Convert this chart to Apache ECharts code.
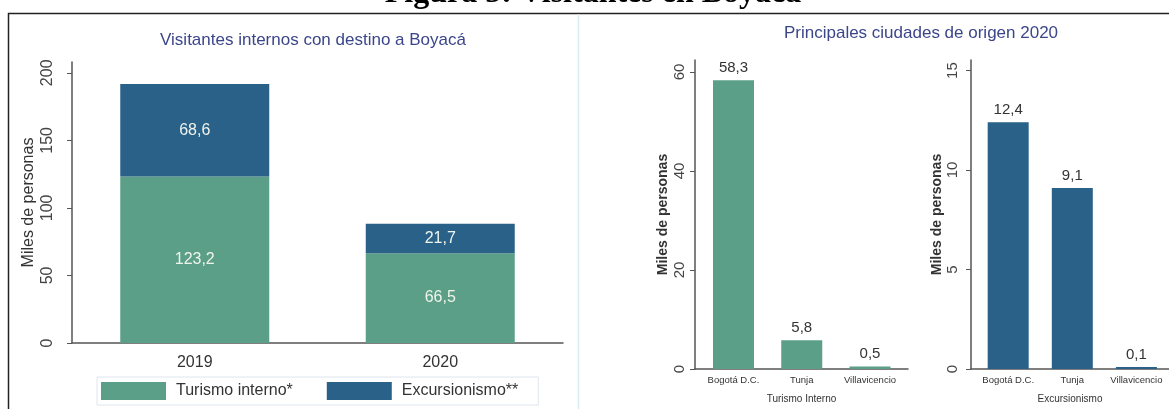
<!DOCTYPE html>
<html><head><meta charset="utf-8">
<script src="https://cdn.jsdelivr.net/npm/echarts@6/dist/echarts.min.js"></script>
<style>html,body{margin:0;padding:0;background:#fff}#c{width:1169px;height:409px}</style>
</head><body><div id="c"></div>
<script>
const years = ['2019', '2020'];
const turismoInterno = [123.2, 66.5];
const excursionismo = [68.6, 21.7];
const cities = ['Bogotá D.C.', 'Tunja', 'Villavicencio'];
const cityTurismo = [58.3, 5.8, 0.5];
const cityExcursion = [12.4, 9.1, 0.1];
const leftTicks = [0, 50, 100, 150, 200];
const midTicks = [0, 20, 40, 60];
const rightTicks = [0, 5, 10, 15];

const GREEN = '#5b9f88', BLUE = '#2a6189';
const FONT = 'Liberation Sans, Arial, sans-serif';
const fmt = v => v.toFixed(1).replace('.', ',');
const pairs = arr => arr.map((v, i) => [i, v]);
const idx = arr => arr.map((_, i) => i);
const chart = echarts.init(document.getElementById('c'));

function yAxis(gi, max, ticks, o) {
  return {
    type: 'value', gridIndex: gi, min: 0, max: max,
    name: 'Miles de personas', nameLocation: 'middle', nameRotate: 90, nameGap: o.nameGap,
    nameTextStyle: { color: '#333', fontSize: o.nameSize, fontFamily: FONT, fontWeight: gi ? 'bold' : 'normal' },
    axisLine: { show: true, onZero: false, lineStyle: { color: '#555', width: 1.5 } },
    axisTick: { show: true, length: 5, customValues: ticks, lineStyle: { color: '#555' } },
    axisLabel: { customValues: ticks, rotate: 90, margin: o.margin, color: '#444', fontSize: o.labelSize, fontFamily: FONT },
    splitLine: { show: false }
  };
}
// left chart: plain category axis (stacked bars)
const xAxisLeft = {
  type: 'category', gridIndex: 0, data: years,
  axisLine: { lineStyle: { color: '#555', width: 1.5 } },
  axisTick: { show: false },
  axisLabel: { color: '#333', fontSize: 16, fontFamily: FONT, margin: 12 }
};
// right charts: category positions on a numeric axis so bars sit where the original draws them
function xAxis(gi, cats, min, max, name) {
  return {
    type: 'value', gridIndex: gi, min: min, max: max,
    name: name, nameLocation: 'middle', nameGap: 25,
    nameTextStyle: { color: '#333', fontSize: 10, fontFamily: FONT },
    axisLine: { show: true, onZero: false, lineStyle: { color: '#555', width: 1.5 } },
    axisTick: { show: false },
    splitLine: { show: false },
    axisLabel: { customValues: idx(cats), formatter: v => cats[Math.round(v)], hideOverlap: false,
      color: '#333', fontSize: 9.5, fontFamily: FONT, margin: 6 }
  };
}

chart.setOption({
  animation: false,
  grid: [
    { left: 72, top: 62, width: 491, height: 281 },
    { left: 695, top: 60, width: 213, height: 314 },
    { left: 971, top: 60, width: 210, height: 314 }
  ],
  xAxis: [
    xAxisLeft,
    xAxis(1, cities, -0.564, -0.564 + 213 / 68.25, 'Turismo Interno'),
    xAxis(2, cities, -0.58, -0.58 + 210 / 68, 'Excursionismo')
  ],
  yAxis: [
    yAxis(0, 208, leftTicks, { nameGap: 35, nameSize: 16, margin: 16, labelSize: 16 }),
    yAxis(1, 62.4, midTicks, { nameGap: 25, nameSize: 14, margin: 8, labelSize: 15 }),
    yAxis(2, 15.53, rightTicks, { nameGap: 26, nameSize: 14, margin: 11, labelSize: 15 })
  ],
  legend: {
    left: 97, top: 377,
    data: ['Turismo interno*', 'Excursionismo**'],
    itemWidth: 65, itemHeight: 18, itemGap: 34,
    padding: [5, 20, 5, 4],
    borderColor: '#dde6ee', borderWidth: 1,
    textStyle: { color: '#333', fontSize: 16, fontFamily: FONT, padding: [0, 0, 0, 5] },
    icon: 'rect'
  },
  series: [
    { name: 'Turismo interno*', type: 'bar', stack: 'a', xAxisIndex: 0, yAxisIndex: 0,
      data: turismoInterno, barWidth: 149, itemStyle: { color: GREEN },
      label: { show: true, position: 'inside', color: '#eef4ec', fontSize: 16, fontFamily: FONT, formatter: p => fmt(p.value) } },
    { name: 'Excursionismo**', type: 'bar', stack: 'a', xAxisIndex: 0, yAxisIndex: 0,
      data: excursionismo, barWidth: 149, itemStyle: { color: BLUE },
      label: { show: true, position: 'inside', color: '#eef4ec', fontSize: 16, fontFamily: FONT, formatter: p => fmt(p.value) } },
    { name: 'ti', type: 'bar', xAxisIndex: 1, yAxisIndex: 1, data: pairs(cityTurismo), barWidth: 41,
      itemStyle: { color: GREEN },
      label: { show: true, position: 'top', distance: 5, color: '#333', fontSize: 15, fontFamily: FONT, formatter: p => fmt(p.value[1]) } },
    { name: 'ex', type: 'bar', xAxisIndex: 2, yAxisIndex: 2, data: pairs(cityExcursion), barWidth: 41,
      itemStyle: { color: BLUE },
      label: { show: true, position: 'top', distance: 5, color: '#333', fontSize: 15, fontFamily: FONT, formatter: p => fmt(p.value[1]) } }
  ],
  graphic: [
    { type: 'text', x: 593, y: -22, style: { text: 'Figura 5: Visitantes en Boyacá', align: 'center', verticalAlign: 'top', font: 'bold 32px "Liberation Serif", "Times New Roman", serif', fill: '#000' } },
    { type: 'line', shape: { x1: 8, y1: 13.5, x2: 1169, y2: 13.5 }, style: { stroke: '#222', lineWidth: 1.5 } },
    { type: 'line', shape: { x1: 8.5, y1: 13, x2: 8.5, y2: 409 }, style: { stroke: '#222', lineWidth: 1.5 } },
    { type: 'line', shape: { x1: 578.5, y1: 14, x2: 578.5, y2: 409 }, style: { stroke: '#dcecf4', lineWidth: 1.5 } },
    { type: 'text', x: 313, y: 40, style: { text: 'Visitantes internos con destino a Boyacá', align: 'center', verticalAlign: 'middle', font: '17px "Liberation Sans", Arial, sans-serif', fill: '#3b468a' } },
    { type: 'text', x: 921, y: 33, style: { text: 'Principales ciudades de origen 2020', align: 'center', verticalAlign: 'middle', font: '17px "Liberation Sans", Arial, sans-serif', fill: '#3b468a' } }
  ]
});
</script></body></html>
